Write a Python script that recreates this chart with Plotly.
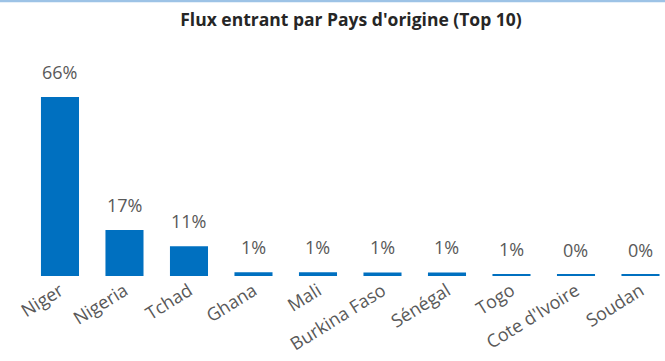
import plotly.graph_objects as go

# Top 10 countries of origin and their share of inbound flows (%)
pays = ["Niger", "Nigeria", "Tchad", "Ghana", "Mali", "Burkina Faso",
        "Sénégal", "Togo", "Cote d'Ivoire", "Soudan"]
parts = [66, 17, 11, 1.4, 1.4, 1.3, 1.3, 0.6, 0.45, 0.4]
etiquettes = ["66%", "17%", "11%", "1%", "1%", "1%", "1%", "1%", "0%", "0%"]

W, H = 665, 361
M_TOP, M_BOT = 40, 85
plot_h = H - M_TOP - M_BOT

bleu = "#0070C0"
gris = "#595959"
police = "Open Sans"

fig = go.Figure()
fig.add_trace(go.Bar(
    x=list(range(len(pays))),
    y=parts,
    marker=dict(color=bleu, line=dict(width=0)),
    width=0.59,
    hoverinfo="skip",
))

# value labels sitting above each bar
for i, (v, t) in enumerate(zip(parts, etiquettes)):
    fig.add_annotation(
        x=i, y=v, text=t, showarrow=False,
        yanchor="bottom", xanchor="center", yshift=11,
        font=dict(family=police, size=18, color=gris),
    )

# thin accent line along the top edge
top_y = 1 + (M_TOP - 1) / plot_h
fig.add_shape(type="line", xref="paper", yref="paper",
              x0=0, x1=1, y0=top_y, y1=top_y,
              line=dict(color="#9DC3E6", width=2.5))

fig.update_layout(
    width=W, height=H,
    margin=dict(l=0, r=0, t=M_TOP, b=M_BOT),
    paper_bgcolor="white", plot_bgcolor="white",
    showlegend=False,
    title=dict(
        text="<b>Flux entrant par Pays d'origine (Top 10)</b>",
        x=351 / W, xanchor="center", y=1 - 20 / H, yanchor="middle",
        font=dict(family=police, size=17.5, color="#262626"),
    ),
    xaxis=dict(
        range=[-0.93, 9.38],
        tickmode="array",
        tickvals=list(range(len(pays))),
        ticktext=pays,
        tickangle=-32,
        tickfont=dict(family=police, size=18, color=gris),
        showgrid=False, zeroline=False, showline=False,
        ticks="", automargin=False, fixedrange=True,
    ),
    yaxis=dict(
        range=[0, plot_h / (179 / 66)],
        visible=False, showgrid=False, zeroline=False,
        fixedrange=True,
    ),
)

fig.write_html("out.html")
